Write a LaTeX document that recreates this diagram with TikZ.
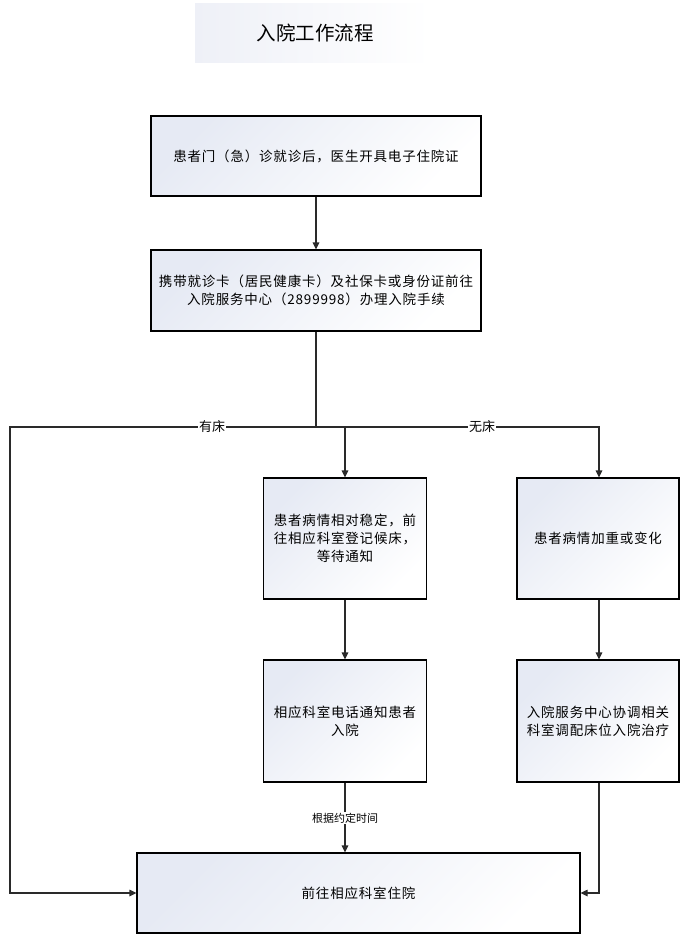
\documentclass[tikz,border=0pt]{standalone}
\usepackage{fontspec}
\setmainfont{Noto Sans CJK SC}[LetterSpace=6]
\newfontfamily\titlefont{Noto Sans CJK SC}
\newfontfamily\labfont{Noto Sans CJK SC}
\usetikzlibrary{arrows.meta}
\definecolor{boxtint}{HTML}{E6EAF4}
\definecolor{titletint}{HTML}{EEF0F7}
\definecolor{linecol}{HTML}{2A2A2A}
\tikzset{
  box/.style={draw=black, line width=1.1pt, top color=boxtint, bottom color=white, shading angle=45, align=center, inner sep=2pt, font=\fontsize{13.5}{18}\selectfont, text=black},
  conn/.style={draw=linecol, line width=1.1pt},
  arr/.style={conn, -{Triangle[length=7pt,width=6.5pt]}},
  lab/.style={fill=white, inner sep=1pt, font=\labfont\fontsize{13}{14}\selectfont},
  smalllab/.style={fill=white, inner sep=1pt, font=\labfont\fontsize{11}{12}\selectfont},
}
\begin{document}
\begin{tikzpicture}[x=1pt, y=-1pt]
\useasboundingbox (0,0) rectangle (680,937);
\fill[white] (0,0) rectangle (680,937);
% title
\shade[left color=titletint, right color=white] (195,3) rectangle (430,62);
\node[font=\titlefont\fontsize{19.5}{22}\selectfont] (title) at (315,33) {入院工作流程};
% boxes
\node[box, minimum width=330pt, minimum height=80pt] (b1) at (316,156) {患者门（急）诊就诊后，医生开具电子住院证};
\node[box, minimum width=330pt, minimum height=81pt] (b2) at (316,290.5) {携带就诊卡（居民健康卡）及社保卡或身份证前往\\入院服务中心（2899998）办理入院手续};
\node[box, minimum width=163pt, minimum height=121pt] (b3) at (345,538.5) {患者病情相对稳定，前\\往相应科室登记候床，\\等待通知};
\node[box, minimum width=162pt, minimum height=121pt] (b4) at (598,538.5) {患者病情加重或变化};
\node[box, minimum width=163pt, minimum height=122pt] (b5) at (345,721) {相应科室电话通知患者\\入院};
\node[box, minimum width=162pt, minimum height=122pt] (b6) at (598,721) {入院服务中心协调相关\\科室调配床位入院治疗};
\node[box, minimum width=443pt, minimum height=80pt] (b7) at (358.5,893) {前往相应科室住院};
% junctions
\coordinate (j) at (316,427);
\coordinate (lc) at (10,427);
\coordinate (rc) at (599,893);
% connectors
\draw[arr] (b1) -- (b2);
\draw[conn] (b2.south) -- (j);
\draw[arr] (j) -| (b3.north);
\draw[arr] (j) -| (b4.north -| 599,0);
\draw[arr] (j) -- (lc) |- (b7.west);
\draw[arr] (b3) -- (b5);
\draw[arr] (b4.south -| 599,0) -- (b6.north -| 599,0);
\draw[arr] (b5) -- (b7.north -| b5);
\draw[arr] (b6.south -| 599,0) -- (rc) -- (b7.east);
% labels
\node[lab] (l1) at (212,427) {有床};
\node[lab] (l2) at (482,427) {无床};
\node[smalllab] (l3) at (345,818) {根据约定时间};
\end{tikzpicture}
\end{document}
